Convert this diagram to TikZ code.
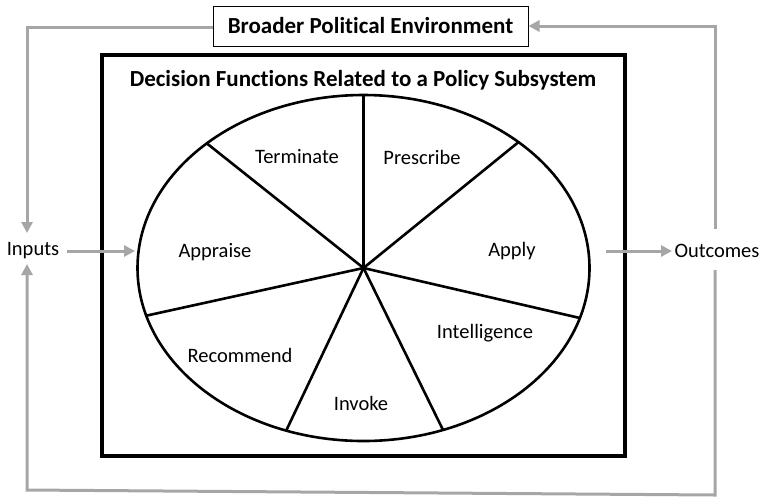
\documentclass[tikz,border=0pt]{standalone}
\usepackage{fontspec}
\setmainfont{Carlito}[Ligatures=NoCommon]
\usetikzlibrary{arrows.meta}
\definecolor{flowgray}{HTML}{A6A6A6}
\begin{document}
\begin{tikzpicture}[x=1pt,y=-1pt,
  lbl/.style={font=\fontsize{20.5}{23}\selectfont, inner sep=0pt},
  ttl/.style={font=\bfseries\fontsize{23}{27}\selectfont, inner sep=0pt},
  flow/.style={draw=flowgray, line width=3pt},
  tip/.style={-{Triangle[length=11pt,width=11pt]}},
  spoke/.style={line width=2.6pt},
]
\useasboundingbox (0,0) rectangle (762,499);

% outer environment box
\node[draw, line width=1pt, minimum width=315pt, minimum height=40pt, ttl] (env) at (370.5,26) {Broader Political Environment};

% subsystem box
\node[draw, line width=3.5pt, minimum width=523pt, minimum height=401pt] (sys) at (363.5,255.5) {};
\node[ttl] (title) at (363,80) {Decision Functions Related to a Policy Subsystem};

% ellipse with spokes
\coordinate (c) at (363.5,268);
\draw[line width=2.6pt] (c) ellipse [x radius=226pt, y radius=173pt];
\foreach \t [count=\i] in {90,46.7,-16.8,-69.4,-110,196,133.9}
  \path (c) ++(\t:226pt and 173pt) coordinate (s\i);
\foreach \i in {1,...,7}
  \draw[spoke] (c) -- (s\i);

% function labels
\node[lbl] (terminate) at (297,157) {Terminate};
\node[lbl] (prescribe) at (422,157) {Prescribe};
\node[lbl] (appraise) at (215,252) {Appraise};
\node[lbl] (apply) at (512,251) {Apply};
\node[lbl] (intel) at (485,333) {Intelligence};
\node[lbl] (recommend) at (240,355) {Recommend};
\node[lbl] (invoke) at (361,403) {Invoke};

% inputs / outcomes
\node[lbl] (inputs) at (33,251) {Inputs};
\node[lbl] (outcomes) at (717,251) {Outcomes};

% flow coordinates
\coordinate (tl) at (27,27);
\coordinate (inTop) at (27,233);
\coordinate (inBot) at (27,264);
\coordinate (bl) at (27,490);
\coordinate (br) at (715,495);
\coordinate (outBot) at (715,270);
\coordinate (outTop) at (715,229);
\coordinate (tr) at (715,26);
\coordinate (inA) at (67,251);
\coordinate (inB) at (135,251);
\coordinate (outA) at (606,251);
\coordinate (outB) at (672,251);

\draw[flow,tip] (env.west |- tl) -- (tl) -- (inTop);
\draw[flow,tip] (outBot) -- (br) -- (bl) -- (inBot);
\draw[flow,tip] (outTop) -- (tr) -- (tr -| env.east);
\draw[flow,tip] (inA) -- (inB);
\draw[flow,tip] (outA) -- (outB);
\end{tikzpicture}
\end{document}
